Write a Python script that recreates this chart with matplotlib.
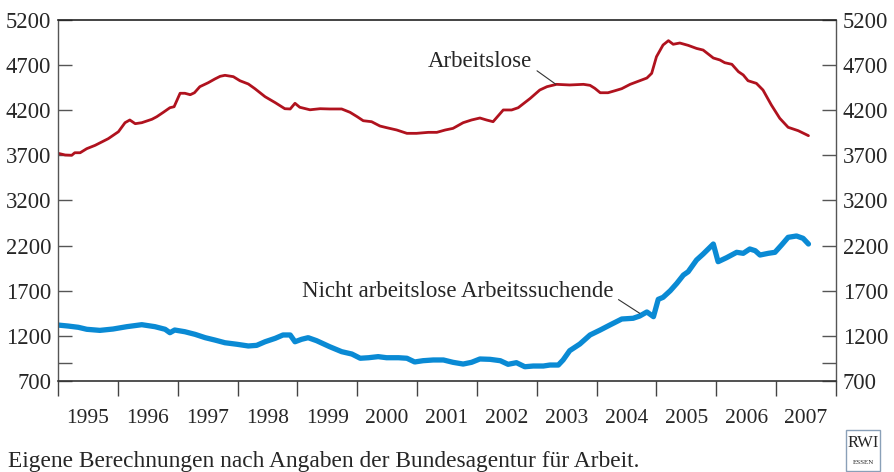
import numpy as np
import matplotlib
matplotlib.use("Agg")
import matplotlib.pyplot as plt
from matplotlib.patches import Rectangle

# ---- data (thousands of persons) ----
arb_t = [1995.00, 1995.12, 1995.23, 1995.28, 1995.37, 1995.48, 1995.62, 1995.73, 1995.84, 1996.01,
         1996.12, 1996.20, 1996.29, 1996.40, 1996.57, 1996.65, 1996.76, 1996.87, 1996.94, 1997.04,
         1997.12, 1997.21, 1997.28, 1997.37, 1997.51, 1997.62, 1997.71, 1997.79, 1997.93, 1998.04,
         1998.18, 1998.29, 1998.46, 1998.63, 1998.79, 1998.88, 1998.96, 1999.04, 1999.21, 1999.38,
         1999.54, 1999.74, 1999.88, 2000.00, 2000.10, 2000.24, 2000.38, 2000.49, 2000.66, 2000.83,
         2000.99, 2001.19, 2001.33, 2001.47, 2001.60, 2001.77, 2001.91, 2002.05, 2002.16, 2002.27,
         2002.44, 2002.58, 2002.69, 2002.89, 2003.05, 2003.17, 2003.33, 2003.55, 2003.78, 2003.89,
         2003.97, 2004.06, 2004.19, 2004.31, 2004.42, 2004.56, 2004.72, 2004.84, 2004.92, 2005.00,
         2005.11, 2005.20, 2005.28, 2005.39, 2005.53, 2005.67, 2005.78, 2005.95, 2006.06, 2006.14,
         2006.26, 2006.37, 2006.45, 2006.53, 2006.67, 2006.78, 2006.92, 2007.06, 2007.20, 2007.37,
         2007.54]
arbeitslose = [3723, 3704, 3701, 3729, 3729, 3774, 3811, 3848, 3885, 3962,
               4062, 4092, 4051, 4062, 4100, 4128, 4177, 4228, 4239, 4388,
               4388, 4372, 4394, 4461, 4505, 4546, 4576, 4587, 4572, 4527,
               4491, 4439, 4350, 4284, 4217, 4214, 4277, 4233, 4205, 4217,
               4214, 4214, 4177, 4128, 4084, 4073, 4025, 4007, 3981, 3944,
               3944, 3955, 3955, 3981, 3999, 4062, 4092, 4114, 4092, 4073,
               4203, 4203, 4228, 4331, 4424, 4461, 4487, 4480, 4487, 4476,
               4443, 4394, 4394, 4417, 4439, 4487, 4527, 4557, 4609, 4793,
               4923, 4971, 4931, 4945, 4919, 4885, 4867, 4779, 4757, 4727,
               4709, 4627, 4591, 4527, 4498, 4424, 4258, 4111, 4011, 3973,
               3918]

such_t = [1995.00, 1995.17, 1995.34, 1995.48, 1995.70, 1995.92, 1996.15, 1996.40, 1996.62, 1996.79,
          1996.87, 1996.95, 1997.12, 1997.29, 1997.46, 1997.62, 1997.79, 1997.99, 1998.18, 1998.32,
          1998.46, 1998.63, 1998.76, 1998.88, 1998.96, 1999.07, 1999.18, 1999.32, 1999.54, 1999.74,
          1999.91, 2000.05, 2000.19, 2000.35, 2000.49, 2000.69, 2000.83, 2000.96, 2001.10, 2001.27,
          2001.44, 2001.60, 2001.77, 2001.91, 2002.05, 2002.22, 2002.39, 2002.52, 2002.66, 2002.80,
          2002.94, 2003.11, 2003.22, 2003.36, 2003.44, 2003.55, 2003.72, 2003.89, 2004.06, 2004.22,
          2004.42, 2004.61, 2004.72, 2004.84, 2004.95, 2005.03, 2005.11, 2005.23, 2005.34, 2005.45,
          2005.53, 2005.67, 2005.78, 2005.95, 2006.03, 2006.17, 2006.34, 2006.45, 2006.56, 2006.65,
          2006.73, 2006.87, 2006.98, 2007.09, 2007.20, 2007.34, 2007.45, 2007.54]
suchende = [1320, 1309, 1295, 1273, 1261, 1276, 1302, 1324, 1302, 1273,
            1235, 1265, 1246, 1217, 1180, 1154, 1124, 1107, 1088, 1095,
            1135, 1173, 1210, 1210, 1135, 1162, 1180, 1147, 1080, 1025,
            999, 952, 958, 970, 958, 958, 952, 911, 925, 933,
            933, 907, 888, 907, 944, 940, 925, 885, 903, 858,
            866, 866, 877, 877, 933, 1036, 1110, 1210, 1265, 1320,
            1387, 1395, 1420, 1465, 1413, 1605, 1627, 1700, 1782, 1874,
            1911, 2041, 2107, 2218, 2022, 2066, 2126, 2115, 2163, 2144,
            2096, 2115, 2126, 2207, 2292, 2307, 2281, 2218]

years = list(range(1995, 2008))
ytick_vals = [700, 1200, 1700, 2200, 3200, 3700, 4200, 4700, 5200]
ytick_minor = [900]

# ---- broken y scale: 2700..3200 collapsed ----
EPS = 1e-3
LO, HI = 2700.0, 3200.0
GAP = HI - LO


def fwd(v):
    v = np.asarray(v, dtype=float)
    return np.where(v <= LO, v,
                    np.where(v >= HI, v - GAP + GAP * EPS, LO + (v - LO) * EPS))


def inv(d):
    d = np.asarray(d, dtype=float)
    top = LO + GAP * EPS
    return np.where(d <= LO, d,
                    np.where(d >= top, d + GAP - GAP * EPS, LO + (d - LO) / EPS))


plt.rcParams['font.family'] = ['Liberation Serif', 'DejaVu Serif']
TXT = '#262626'
RED = '#B0121E'
BLUE = '#0A8AD4'

fig = plt.figure(figsize=(8.94, 4.72), dpi=100)
ax = fig.add_axes([58 / 894, 1 - 381 / 472, (836 - 58) / 894, (381 - 20) / 472])
ax.set_yscale('function', functions=(fwd, inv))

ax.plot(arb_t, arbeitslose, color=RED, lw=2.0, solid_joinstyle='round', solid_capstyle='round')
ax.plot(such_t, suchende, color=BLUE, lw=3.8, solid_joinstyle='round', solid_capstyle='round')

ax.set_xlim(1995, 2008)
ax.set_ylim(700, 5200)

ax.set_yticks(ytick_vals)
ax.set_yticklabels([str(v) for v in ytick_vals])
ax.set_yticks(ytick_minor, minor=True)
ax.tick_params(axis='y', which='both', direction='in', length=10, width=1.0, color='#555555',
               left=True, right=True, labelleft=True, labelright=True,
               labelsize=16.3, labelcolor=TXT, pad=5)

ax.set_xticks(years + [2008])
ax.set_xticklabels([])
ax.set_xticks([y + 0.5 for y in years], minor=True)
ax.set_xticklabels([str(y) for y in years], minor=True)
ax.tick_params(axis='x', which='major', direction='out', length=11, width=1.0, color='#444444')
ax.tick_params(axis='x', which='minor', length=0, labelsize=15.5, labelcolor=TXT, pad=20)

for s in ['left', 'right']:
    ax.spines[s].set_color('#555555')
    ax.spines[s].set_linewidth(1.0)
ax.spines['top'].set_color('#222222')
ax.spines['top'].set_linewidth(1.2)
ax.spines['bottom'].set_color('#333333')
ax.spines['bottom'].set_linewidth(1.2)

ax.annotate('Arbeitslose', xy=(2003.32, 4487), xytext=(2002.92, 4735),
            ha='right', va='center', fontsize=16.5, color=TXT,
            arrowprops=dict(arrowstyle='-', color='#333333', lw=0.8, shrinkA=2, shrinkB=0,
                            relpos=(1.0, 0.25)))
ax.annotate('Nicht arbeitslose Arbeitssuchende', xy=(2004.72, 1450), xytext=(2004.28, 1697),
            ha='right', va='center', fontsize=16.5, color=TXT,
            arrowprops=dict(arrowstyle='-', color='#333333', lw=0.8, shrinkA=2, shrinkB=0,
                            relpos=(1.0, 0.25)))

fig.text(8 / 894, 1 - 462 / 472, 'Eigene Berechnungen nach Angaben der Bundesagentur für Arbeit.',
         ha='left', va='center', fontsize=16.8, color=TXT)

# RWI logo box
fig.patches.append(Rectangle((846 / 894, 1 - 471 / 472), 34 / 894, 41 / 472,
                             transform=fig.transFigure, fill=False, edgecolor='#8aa0b8', lw=1.0))
fig.text(863 / 894, 1 - 443 / 472, 'RWI', ha='center', va='center', fontsize=12, color=TXT)
fig.text(863 / 894, 1 - 462 / 472, 'ESSEN', ha='center', va='center', fontsize=5, color=TXT)

fig.savefig('out.png', dpi=100)
